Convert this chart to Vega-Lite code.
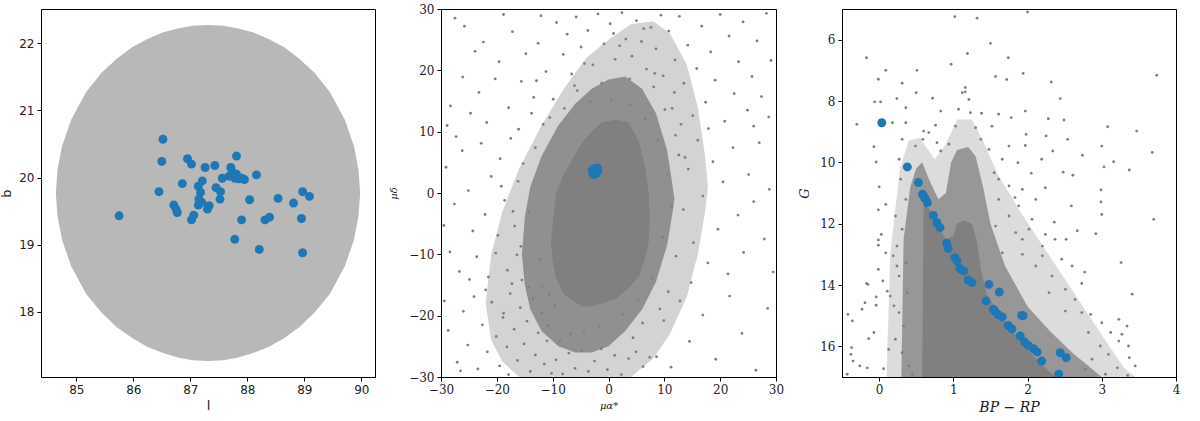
{
  "$schema": "https://vega.github.io/schema/vega-lite/v6.json",
  "background": "white",
  "padding": {"left": 0, "top": 2, "right": 5, "bottom": 5},
  "spacing": 66,
  "bounds": "flush",
  "config": {
    "view": {"stroke": "#000", "strokeWidth": 1},
    "axis": {"grid": false, "domainColor": "#000", "tickColor": "#000", "tickSize": 4, "labelColor": "#222", "titleColor": "#222", "titleFontWeight": "normal", "labelPadding": 3, "labelFlush": false, "labelOverlap": false, "format": "d"}
  },
  "datasets": {
    "ell": [
      {"l": 84.64, "lo": 19.77, "hi": 19.77}, {"l": 84.67, "lo": 19.42, "hi": 20.12}, {"l": 84.75, "lo": 19.07, "hi": 20.47},
      {"l": 84.91, "lo": 18.68, "hi": 20.86}, {"l": 85.17, "lo": 18.27, "hi": 21.27}, {"l": 85.44, "lo": 17.99, "hi": 21.56},
      {"l": 85.71, "lo": 17.77, "hi": 21.77}, {"l": 85.98, "lo": 17.61, "hi": 21.94}, {"l": 86.24, "lo": 17.48, "hi": 22.06},
      {"l": 86.51, "lo": 17.39, "hi": 22.16}, {"l": 86.78, "lo": 17.32, "hi": 22.22}, {"l": 87.04, "lo": 17.28, "hi": 22.26},
      {"l": 87.31, "lo": 17.27, "hi": 22.27}, {"l": 87.58, "lo": 17.28, "hi": 22.26}, {"l": 87.84, "lo": 17.32, "hi": 22.22},
      {"l": 88.11, "lo": 17.39, "hi": 22.16}, {"l": 88.38, "lo": 17.48, "hi": 22.06}, {"l": 88.65, "lo": 17.61, "hi": 21.94},
      {"l": 88.91, "lo": 17.77, "hi": 21.77}, {"l": 89.18, "lo": 17.99, "hi": 21.56}, {"l": 89.45, "lo": 18.27, "hi": 21.27},
      {"l": 89.71, "lo": 18.68, "hi": 20.86}, {"l": 89.87, "lo": 19.07, "hi": 20.47}, {"l": 89.95, "lo": 19.42, "hi": 20.12},
      {"l": 89.98, "lo": 19.77, "hi": 19.77}
    ],
    "memb": [
      {"l": 86.52, "b": 20.57}, {"l": 86.50, "b": 20.24}, {"l": 86.95, "b": 20.28}, {"l": 87.02, "b": 20.20}, {"l": 87.26, "b": 20.15},
      {"l": 87.43, "b": 20.18}, {"l": 87.81, "b": 20.32}, {"l": 87.71, "b": 20.15}, {"l": 87.56, "b": 19.99}, {"l": 87.68, "b": 20.02},
      {"l": 87.81, "b": 20.05}, {"l": 87.85, "b": 19.98}, {"l": 87.95, "b": 19.97}, {"l": 87.78, "b": 19.99}, {"l": 88.16, "b": 20.04},
      {"l": 86.86, "b": 19.91}, {"l": 87.21, "b": 19.95}, {"l": 87.14, "b": 19.87}, {"l": 87.18, "b": 19.78}, {"l": 86.45, "b": 19.79},
      {"l": 87.45, "b": 19.85}, {"l": 87.53, "b": 19.79}, {"l": 87.52, "b": 19.68}, {"l": 88.04, "b": 19.67}, {"l": 88.54, "b": 19.69},
      {"l": 88.81, "b": 19.62}, {"l": 88.97, "b": 19.79}, {"l": 89.09, "b": 19.72}, {"l": 87.15, "b": 19.68}, {"l": 87.20, "b": 19.63},
      {"l": 87.14, "b": 19.59}, {"l": 86.71, "b": 19.59}, {"l": 86.75, "b": 19.53}, {"l": 86.77, "b": 19.48}, {"l": 87.33, "b": 19.58},
      {"l": 87.30, "b": 19.53}, {"l": 85.75, "b": 19.43}, {"l": 87.06, "b": 19.44}, {"l": 87.02, "b": 19.37}, {"l": 87.90, "b": 19.37},
      {"l": 88.31, "b": 19.37}, {"l": 88.39, "b": 19.41}, {"l": 88.95, "b": 19.39}, {"l": 87.78, "b": 19.08}, {"l": 88.21, "b": 18.93},
      {"l": 88.97, "b": 18.88}, {"l": 87.90, "b": 19.99}, {"l": 87.74, "b": 20.08}
    ],
    "pm3": [
      {"pmra": -22, "lo": -18, "hi": -18}, {"pmra": -21, "lo": -24, "hi": -10}, {"pmra": -19, "lo": -27.5, "hi": -3},
      {"pmra": -16, "lo": -30, "hi": 4}, {"pmra": -12, "lo": -30, "hi": 11}, {"pmra": -8, "lo": -30, "hi": 17},
      {"pmra": -4, "lo": -30, "hi": 22}, {"pmra": 0, "lo": -30, "hi": 25}, {"pmra": 4, "lo": -30, "hi": 27.5},
      {"pmra": 8, "lo": -27, "hi": 28}, {"pmra": 11, "lo": -23, "hi": 26}, {"pmra": 14, "lo": -17, "hi": 21},
      {"pmra": 16, "lo": -10, "hi": 14}, {"pmra": 17.3, "lo": -3, "hi": 6}, {"pmra": 17.8, "lo": 1, "hi": 1}
    ],
    "pm2": [
      {"pmra": -15.5, "lo": -10, "hi": -10}, {"pmra": -15, "lo": -15, "hi": -4}, {"pmra": -14, "lo": -19, "hi": 1},
      {"pmra": -12, "lo": -22.5, "hi": 6}, {"pmra": -9, "lo": -25, "hi": 11}, {"pmra": -6, "lo": -26, "hi": 14.5},
      {"pmra": -3, "lo": -26, "hi": 17}, {"pmra": 0, "lo": -25, "hi": 18.5}, {"pmra": 3, "lo": -22.5, "hi": 19},
      {"pmra": 6, "lo": -19, "hi": 17}, {"pmra": 8.5, "lo": -14.5, "hi": 13}, {"pmra": 10.5, "lo": -8.5, "hi": 7},
      {"pmra": 11.5, "lo": -3, "hi": 1}, {"pmra": 11.8, "lo": -1, "hi": -1}
    ],
    "pm1": [
      {"pmra": -10.3, "lo": -8, "hi": -8}, {"pmra": -10, "lo": -11, "hi": -5}, {"pmra": -9.4, "lo": -14, "hi": 0},
      {"pmra": -8, "lo": -16.5, "hi": 3}, {"pmra": -6.5, "lo": -17.5, "hi": 5.5}, {"pmra": -4.7, "lo": -18.5, "hi": 8.3},
      {"pmra": -3, "lo": -18.5, "hi": 10}, {"pmra": -1.2, "lo": -18, "hi": 11.5}, {"pmra": 1.3, "lo": -17.3, "hi": 12},
      {"pmra": 3.6, "lo": -15.5, "hi": 11.5}, {"pmra": 5.5, "lo": -13.5, "hi": 8.3}, {"pmra": 6.6, "lo": -10.5, "hi": 4},
      {"pmra": 7.2, "lo": -8, "hi": 0}, {"pmra": 7.4, "lo": -4, "hi": -4}
    ],
    "pmfield": [
      {"pmra": -27.5, "pmdec": 28.5}, {"pmra": -25.8, "pmdec": 27.2}, {"pmra": -22.4, "pmdec": 24.6}, {"pmra": -23.9, "pmdec": 23.1},
      {"pmra": -19.6, "pmdec": 21.4}, {"pmra": -17.2, "pmdec": 26.3}, {"pmra": -14.8, "pmdec": 22.7}, {"pmra": -12.1, "pmdec": 28.9},
      {"pmra": -15.6, "pmdec": 18.2}, {"pmra": -20.3, "pmdec": 18.6}, {"pmra": -26.1, "pmdec": 18.9}, {"pmra": -28.3, "pmdec": 14.2},
      {"pmra": -24.7, "pmdec": 13.0}, {"pmra": -21.8, "pmdec": 11.5}, {"pmra": -17.9, "pmdec": 13.9}, {"pmra": -13.4, "pmdec": 15.6},
      {"pmra": -11.2, "pmdec": 19.8}, {"pmra": -12.6, "pmdec": 24.4}, {"pmra": -18.8, "pmdec": 29.1}, {"pmra": -10.5, "pmdec": 12.3},
      {"pmra": -16.1, "pmdec": 10.4}, {"pmra": -28.9, "pmdec": 11.0}, {"pmra": -23.2, "pmdec": 16.4},
      {"pmra": -29.1, "pmdec": 4.2}, {"pmra": -27.6, "pmdec": -1.8}, {"pmra": -26.2, "pmdec": 6.9}, {"pmra": -25.1, "pmdec": 0.4},
      {"pmra": -24.3, "pmdec": -6.2}, {"pmra": -22.8, "pmdec": 8.1}, {"pmra": -22.1, "pmdec": -3.5}, {"pmra": -21.0, "pmdec": 2.7},
      {"pmra": -20.2, "pmdec": -9.8}, {"pmra": -19.4, "pmdec": 5.6}, {"pmra": -18.6, "pmdec": -1.2}, {"pmra": -18.1, "pmdec": -12.6},
      {"pmra": -17.5, "pmdec": 8.9}, {"pmra": -16.8, "pmdec": -5.4}, {"pmra": -16.2, "pmdec": 1.9}, {"pmra": -15.7, "pmdec": -8.7},
      {"pmra": -15.3, "pmdec": 4.8}, {"pmra": -28.4, "pmdec": -9.6}, {"pmra": -26.7, "pmdec": -12.8}, {"pmra": -24.9, "pmdec": -14.1},
      {"pmra": -23.6, "pmdec": -10.4}, {"pmra": -21.5, "pmdec": -13.7}, {"pmra": -19.8, "pmdec": -6.9}, {"pmra": -17.3, "pmdec": -14.8},
      {"pmra": -29.5, "pmdec": -5.3}, {"pmra": -27.3, "pmdec": 9.2},
      {"pmra": -28.7, "pmdec": -22.4}, {"pmra": -27.1, "pmdec": -27.6}, {"pmra": -26.0, "pmdec": -19.3}, {"pmra": -25.2, "pmdec": -24.8},
      {"pmra": -24.1, "pmdec": -16.9}, {"pmra": -23.4, "pmdec": -28.7}, {"pmra": -22.6, "pmdec": -21.5}, {"pmra": -21.7, "pmdec": -25.9},
      {"pmra": -20.9, "pmdec": -17.8}, {"pmra": -20.1, "pmdec": -23.4}, {"pmra": -19.5, "pmdec": -28.2}, {"pmra": -18.8, "pmdec": -19.6},
      {"pmra": -18.2, "pmdec": -25.1}, {"pmra": -17.6, "pmdec": -16.4}, {"pmra": -16.9, "pmdec": -22.2}, {"pmra": -16.3, "pmdec": -27.3},
      {"pmra": -15.8, "pmdec": -18.7}, {"pmra": -15.1, "pmdec": -24.6}, {"pmra": -14.6, "pmdec": -20.9}, {"pmra": -14.0, "pmdec": -29.1},
      {"pmra": -13.5, "pmdec": -17.2}, {"pmra": -13.1, "pmdec": -26.4}, {"pmra": -12.6, "pmdec": -22.8}, {"pmra": -12.0, "pmdec": -19.5},
      {"pmra": -11.5, "pmdec": -27.9}, {"pmra": -11.0, "pmdec": -24.1}, {"pmra": -10.6, "pmdec": -16.5}, {"pmra": -10.2, "pmdec": -29.4},
      {"pmra": -29.4, "pmdec": -17.6}, {"pmra": -26.5, "pmdec": -29.0}, {"pmra": -22.0, "pmdec": -15.8}, {"pmra": -17.9, "pmdec": -29.6},
      {"pmra": -14.3, "pmdec": -15.4},
      {"pmra": -9.3, "pmdec": 27.8}, {"pmra": -8.1, "pmdec": 22.6}, {"pmra": -7.4, "pmdec": 25.9}, {"pmra": -6.6, "pmdec": 19.4},
      {"pmra": -5.8, "pmdec": 28.7}, {"pmra": -4.9, "pmdec": 23.8}, {"pmra": -3.7, "pmdec": 26.5}, {"pmra": -2.8, "pmdec": 20.9},
      {"pmra": -1.9, "pmdec": 29.2}, {"pmra": -0.8, "pmdec": 24.3}, {"pmra": 0.3, "pmdec": 27.6}, {"pmra": 1.2, "pmdec": 21.8},
      {"pmra": 2.4, "pmdec": 29.4}, {"pmra": 3.1, "pmdec": 25.1}, {"pmra": 4.2, "pmdec": 22.3}, {"pmra": 5.0, "pmdec": 28.1},
      {"pmra": 5.9, "pmdec": 24.7}, {"pmra": 6.8, "pmdec": 20.2}, {"pmra": 7.6, "pmdec": 27.0}, {"pmra": 8.5, "pmdec": 23.5},
      {"pmra": 9.4, "pmdec": 29.0}, {"pmra": 9.8, "pmdec": 19.1}, {"pmra": -6.1, "pmdec": 17.5}, {"pmra": -1.2, "pmdec": 17.9},
      {"pmra": 3.8, "pmdec": 18.6}, {"pmra": 8.1, "pmdec": 17.3}, {"pmra": 0.9, "pmdec": 26.0}, {"pmra": -4.3, "pmdec": 21.1},
      {"pmra": 6.3, "pmdec": 26.8}, {"pmra": 2.0, "pmdec": 24.0},
      {"pmra": 10.8, "pmdec": 26.4}, {"pmra": 11.9, "pmdec": 21.7}, {"pmra": 12.7, "pmdec": 28.8}, {"pmra": 13.5, "pmdec": 17.9},
      {"pmra": 14.2, "pmdec": 24.1}, {"pmra": 15.1, "pmdec": 12.6}, {"pmra": 15.8, "pmdec": 20.3}, {"pmra": 16.7, "pmdec": 27.2},
      {"pmra": 17.4, "pmdec": 14.8}, {"pmra": 18.3, "pmdec": 23.0}, {"pmra": 19.1, "pmdec": 18.4}, {"pmra": 20.0, "pmdec": 29.1},
      {"pmra": 20.8, "pmdec": 11.7}, {"pmra": 21.6, "pmdec": 25.6}, {"pmra": 22.5, "pmdec": 16.2}, {"pmra": 23.3, "pmdec": 21.4},
      {"pmra": 24.1, "pmdec": 27.9}, {"pmra": 24.9, "pmdec": 13.5}, {"pmra": 25.7, "pmdec": 19.0}, {"pmra": 26.6, "pmdec": 24.8},
      {"pmra": 27.4, "pmdec": 15.7}, {"pmra": 28.3, "pmdec": 29.3}, {"pmra": 29.1, "pmdec": 21.6}, {"pmra": 11.4, "pmdec": 13.8},
      {"pmra": 13.0, "pmdec": 11.2}, {"pmra": 17.9, "pmdec": 10.5}, {"pmra": 26.0, "pmdec": 10.9}, {"pmra": 28.7, "pmdec": 12.4},
      {"pmra": 12.6, "pmdec": 6.2}, {"pmra": 13.4, "pmdec": -2.7}, {"pmra": 14.3, "pmdec": 3.9}, {"pmra": 15.2, "pmdec": -8.1},
      {"pmra": 16.0, "pmdec": 8.6}, {"pmra": 16.9, "pmdec": -0.5}, {"pmra": 17.8, "pmdec": -11.4}, {"pmra": 18.7, "pmdec": 5.1},
      {"pmra": 19.6, "pmdec": -5.9}, {"pmra": 20.5, "pmdec": 1.8}, {"pmra": 21.4, "pmdec": -13.2}, {"pmra": 22.3, "pmdec": 7.4},
      {"pmra": 23.2, "pmdec": -3.6}, {"pmra": 24.2, "pmdec": -9.7}, {"pmra": 25.1, "pmdec": 3.0}, {"pmra": 26.0, "pmdec": -1.4},
      {"pmra": 27.0, "pmdec": 8.2}, {"pmra": 27.9, "pmdec": -7.5}, {"pmra": 28.8, "pmdec": 0.6}, {"pmra": 29.5, "pmdec": -12.9},
      {"pmra": 12.1, "pmdec": -10.3}, {"pmra": 14.8, "pmdec": -14.6},
      {"pmra": 8.6, "pmdec": -26.7}, {"pmra": 9.9, "pmdec": -20.8}, {"pmra": 11.2, "pmdec": -28.4}, {"pmra": 12.8, "pmdec": -17.6},
      {"pmra": 14.5, "pmdec": -24.2}, {"pmra": 16.9, "pmdec": -19.9}, {"pmra": 19.2, "pmdec": -27.1}, {"pmra": 21.7, "pmdec": -16.8},
      {"pmra": 23.9, "pmdec": -22.9}, {"pmra": 26.4, "pmdec": -28.9}, {"pmra": 28.5, "pmdec": -18.8}, {"pmra": 10.7, "pmdec": -16.1},
      {"pmra": -9.4, "pmdec": -27.2}, {"pmra": -8.2, "pmdec": -29.5}, {"pmra": -7.1, "pmdec": -26.1}, {"pmra": -6.0, "pmdec": -28.6},
      {"pmra": -4.8, "pmdec": -25.7}, {"pmra": -3.6, "pmdec": -29.1}, {"pmra": -2.5, "pmdec": -27.4}, {"pmra": -1.3, "pmdec": -25.4},
      {"pmra": -0.2, "pmdec": -28.8}, {"pmra": 1.1, "pmdec": -26.5}, {"pmra": 2.3, "pmdec": -29.6}, {"pmra": 3.6, "pmdec": -27.0},
      {"pmra": 4.9, "pmdec": -25.9}, {"pmra": 6.2, "pmdec": -28.3}, {"pmra": 7.4, "pmdec": -26.8},
      {"pmra": -14.2, "pmdec": -3.1}, {"pmra": -13.1, "pmdec": 7.4}, {"pmra": -12.3, "pmdec": -10.8}, {"pmra": -11.7, "pmdec": 11.2},
      {"pmra": -10.8, "pmdec": -21.6}, {"pmra": -9.9, "pmdec": 15.3}, {"pmra": -8.7, "pmdec": -24.1}, {"pmra": -7.9, "pmdec": 13.8},
      {"pmra": -6.8, "pmdec": -23.0}, {"pmra": -5.6, "pmdec": 16.7}, {"pmra": -4.4, "pmdec": -22.5}, {"pmra": -3.3, "pmdec": 14.9},
      {"pmra": -1.7, "pmdec": -21.7}, {"pmra": 0.5, "pmdec": 15.2}, {"pmra": 2.6, "pmdec": -19.8}, {"pmra": 3.9, "pmdec": 14.3},
      {"pmra": 5.3, "pmdec": -17.4}, {"pmra": 6.6, "pmdec": 12.1}, {"pmra": 7.8, "pmdec": -13.9}, {"pmra": 8.9, "pmdec": 8.6},
      {"pmra": 9.7, "pmdec": -7.2}, {"pmra": 10.6, "pmdec": 3.1}, {"pmra": 11.3, "pmdec": -2.2}, {"pmra": 12.0, "pmdec": 9.4},
      {"pmra": -15.5, "pmdec": -14.2}, {"pmra": -16.4, "pmdec": -10.1}, {"pmra": -13.8, "pmdec": 13.0}, {"pmra": -12.9, "pmdec": 18.3},
      {"pmra": 8.3, "pmdec": 19.5}, {"pmra": 11.8, "pmdec": 16.4}, {"pmra": -18.9, "pmdec": -20.3}, {"pmra": -9.6, "pmdec": -18.4},
      {"pmra": 4.4, "pmdec": -23.6}, {"pmra": 9.2, "pmdec": -18.9}, {"pmra": 13.7, "pmdec": 5.8}, {"pmra": -17.1, "pmdec": -3.0},
      {"pmra": -11.9, "pmdec": -15.2}, {"pmra": -19.2, "pmdec": 1.1}, {"pmra": 10.1, "pmdec": 13.6}, {"pmra": 6.1, "pmdec": -21.2}
    ],
    "pmmemb": [
      {"pmra": -2.8, "pmdec": 3.3}, {"pmra": -2.3, "pmdec": 3.9}, {"pmra": -2.0, "pmdec": 4.1}, {"pmra": -2.6, "pmdec": 3.6},
      {"pmra": -2.2, "pmdec": 3.2}, {"pmra": -2.9, "pmdec": 3.7}, {"pmra": -2.5, "pmdec": 4.0}, {"pmra": -2.1, "pmdec": 3.7},
      {"pmra": -2.7, "pmdec": 3.0}, {"pmra": -1.9, "pmdec": 3.6}
    ],
    "cmd3": [
      {"bprp": 0.1, "top": 17, "bot": 17}, {"bprp": 0.15, "top": 13, "bot": 17}, {"bprp": 0.28, "top": 10.2, "bot": 17},
      {"bprp": 0.4, "top": 9.3, "bot": 17}, {"bprp": 0.55, "top": 9.2, "bot": 17}, {"bprp": 0.75, "top": 9.9, "bot": 17},
      {"bprp": 0.9, "top": 9.4, "bot": 17}, {"bprp": 1.05, "top": 8.6, "bot": 17}, {"bprp": 1.25, "top": 8.6, "bot": 17},
      {"bprp": 1.4, "top": 9.3, "bot": 17}, {"bprp": 1.6, "top": 10.4, "bot": 17}, {"bprp": 1.9, "top": 11.6, "bot": 17},
      {"bprp": 2.2, "top": 12.7, "bot": 17}, {"bprp": 2.5, "top": 13.8, "bot": 17}, {"bprp": 2.8, "top": 14.9, "bot": 17},
      {"bprp": 3.1, "top": 16.0, "bot": 17}, {"bprp": 3.3, "top": 16.7, "bot": 17}, {"bprp": 3.45, "top": 17, "bot": 17}
    ],
    "cmd2": [
      {"bprp": 0.3, "top": 17, "bot": 17}, {"bprp": 0.33, "top": 12.5, "bot": 17}, {"bprp": 0.42, "top": 10.8, "bot": 17},
      {"bprp": 0.5, "top": 10.2, "bot": 17}, {"bprp": 0.58, "top": 10.0, "bot": 17}, {"bprp": 0.68, "top": 10.6, "bot": 17},
      {"bprp": 0.8, "top": 11.2, "bot": 17}, {"bprp": 0.9, "top": 11.0, "bot": 17}, {"bprp": 0.97, "top": 10.0, "bot": 17},
      {"bprp": 1.05, "top": 9.6, "bot": 17}, {"bprp": 1.2, "top": 9.5, "bot": 17}, {"bprp": 1.3, "top": 9.8, "bot": 17},
      {"bprp": 1.4, "top": 10.8, "bot": 17}, {"bprp": 1.5, "top": 12.0, "bot": 17}, {"bprp": 1.7, "top": 13.4, "bot": 17},
      {"bprp": 2.0, "top": 14.7, "bot": 17}, {"bprp": 2.3, "top": 15.5, "bot": 17}, {"bprp": 2.6, "top": 16.2, "bot": 17},
      {"bprp": 2.8, "top": 16.6, "bot": 17}, {"bprp": 3.0, "top": 17, "bot": 17}
    ],
    "cmd1": [
      {"bprp": 0.58, "top": 17, "bot": 17}, {"bprp": 0.6, "top": 11.3, "bot": 17}, {"bprp": 0.7, "top": 11.6, "bot": 17},
      {"bprp": 0.8, "top": 12.1, "bot": 17}, {"bprp": 0.9, "top": 12.5, "bot": 17}, {"bprp": 1.0, "top": 12.4, "bot": 17},
      {"bprp": 1.05, "top": 12.0, "bot": 17}, {"bprp": 1.15, "top": 11.9, "bot": 17}, {"bprp": 1.25, "top": 12.0, "bot": 17},
      {"bprp": 1.32, "top": 12.6, "bot": 17}, {"bprp": 1.38, "top": 13.6, "bot": 17}, {"bprp": 1.45, "top": 14.3, "bot": 17},
      {"bprp": 1.6, "top": 14.9, "bot": 17}, {"bprp": 1.8, "top": 15.5, "bot": 17}, {"bprp": 2.0, "top": 16.1, "bot": 17},
      {"bprp": 2.2, "top": 16.6, "bot": 17}, {"bprp": 2.35, "top": 16.95, "bot": 17}, {"bprp": 2.42, "top": 17, "bot": 17}
    ],
    "cmdfield": [
      {"bprp": 1.02, "G": 5.25}, {"bprp": 1.32, "G": 5.30}, {"bprp": 2.0, "G": 5.1}, {"bprp": 1.5, "G": 6.12}, {"bprp": 1.19, "G": 6.45},
      {"bprp": 1.74, "G": 6.59}, {"bprp": -0.17, "G": 6.59}, {"bprp": 0.97, "G": 6.8}, {"bprp": 0.51, "G": 7.0}, {"bprp": 0.09, "G": 7.0},
      {"bprp": 1.57, "G": 7.2}, {"bprp": 1.72, "G": 7.3}, {"bprp": 1.94, "G": 7.1}, {"bprp": 2.32, "G": 7.38}, {"bprp": 3.74, "G": 7.16},
      {"bprp": -0.01, "G": 7.29}, {"bprp": 0.31, "G": 7.42}, {"bprp": 0.50, "G": 7.73}, {"bprp": 1.16, "G": 7.56}, {"bprp": 1.16, "G": 7.7},
      {"bprp": 2.44, "G": 7.92}, {"bprp": -0.06, "G": 8.03}, {"bprp": 0.02, "G": 8.03}, {"bprp": 0.24, "G": 7.92}, {"bprp": 0.36, "G": 8.22},
      {"bprp": 0.72, "G": 7.91}, {"bprp": 0.83, "G": 8.33}, {"bprp": 1.21, "G": 7.95}, {"bprp": 1.38, "G": 8.4}, {"bprp": 1.61, "G": 8.43},
      {"bprp": 1.78, "G": 8.54}, {"bprp": 1.97, "G": 8.33}, {"bprp": 2.28, "G": 8.58}, {"bprp": 2.49, "G": 8.62}, {"bprp": 3.08, "G": 8.84},
      {"bprp": 3.47, "G": 8.98}, {"bprp": -0.30, "G": 8.76}, {"bprp": 0.18, "G": 8.71}, {"bprp": 0.36, "G": 8.71}, {"bprp": 0.76, "G": 8.79},
      {"bprp": 0.60, "G": 8.98}, {"bprp": 1.52, "G": 8.82}, {"bprp": 1.98, "G": 9.09}, {"bprp": 2.25, "G": 9.14}, {"bprp": 1.75, "G": 9.47},
      {"bprp": 1.97, "G": 9.45}, {"bprp": 2.34, "G": 9.63}, {"bprp": 2.54, "G": 9.25}, {"bprp": 3.0, "G": 9.47}, {"bprp": -0.07, "G": 9.49},
      {"bprp": 3.68, "G": 9.68}, {"bprp": 2.74, "G": 9.77}, {"bprp": 2.19, "G": 9.9}, {"bprp": 1.87, "G": 10.01}, {"bprp": 3.16, "G": 9.98},
      {"bprp": 3.03, "G": 10.15}, {"bprp": 3.37, "G": 10.25}, {"bprp": -0.04, "G": 9.99}, {"bprp": 2.48, "G": 10.32}, {"bprp": 2.05, "G": 10.36},
      {"bprp": 2.61, "G": 10.42}, {"bprp": 1.61, "G": 10.55}, {"bprp": 2.24, "G": 10.83}, {"bprp": 1.93, "G": 10.88}, {"bprp": 2.99, "G": 10.9},
      {"bprp": 1.83, "G": 11.15}, {"bprp": 2.11, "G": 11.21}, {"bprp": 0.0, "G": 10.8}, {"bprp": -0.01, "G": 11.55}, {"bprp": 2.59, "G": 11.42},
      {"bprp": 2.99, "G": 11.29}, {"bprp": 3.0, "G": 11.7}, {"bprp": 0.09, "G": 11.37}, {"bprp": 3.70, "G": 11.86}, {"bprp": 2.36, "G": 11.95},
      {"bprp": 2.67, "G": 12.23}, {"bprp": 2.02, "G": 12.18}, {"bprp": 2.92, "G": 12.33}, {"bprp": 2.24, "G": 12.35}, {"bprp": 1.93, "G": 12.51},
      {"bprp": 2.52, "G": 12.51}, {"bprp": 0.03, "G": 12.35}, {"bprp": -0.01, "G": 12.53}, {"bprp": -0.01, "G": 12.7}, {"bprp": 0.09, "G": 12.95},
      {"bprp": 0.19, "G": 13.05}, {"bprp": 1.66, "G": 12.95}, {"bprp": 1.93, "G": 13.0}, {"bprp": 2.2, "G": 13.05}, {"bprp": 3.26, "G": 13.27},
      {"bprp": 2.77, "G": 13.58}, {"bprp": -0.01, "G": 13.49}, {"bprp": 0.24, "G": 13.38}, {"bprp": 0.05, "G": 13.87}, {"bprp": -0.17, "G": 13.95},
      {"bprp": -0.15, "G": 13.98}, {"bprp": 2.73, "G": 13.95}, {"bprp": 3.41, "G": 14.3}, {"bprp": 0.11, "G": 14.2}, {"bprp": 0.15, "G": 14.36},
      {"bprp": -0.04, "G": 14.39}, {"bprp": -0.19, "G": 14.58}, {"bprp": -0.04, "G": 14.66}, {"bprp": -0.23, "G": 14.79}, {"bprp": 0.20, "G": 14.68},
      {"bprp": -0.42, "G": 14.96}, {"bprp": -0.36, "G": 15.17}, {"bprp": 2.73, "G": 14.9}, {"bprp": 2.85, "G": 14.96}, {"bprp": 2.51, "G": 14.85},
      {"bprp": 3.0, "G": 15.23}, {"bprp": 3.12, "G": 15.55}, {"bprp": 3.27, "G": 15.61}, {"bprp": 3.23, "G": 15.83}, {"bprp": 3.36, "G": 15.99},
      {"bprp": -0.07, "G": 15.55}, {"bprp": -0.14, "G": 15.75}, {"bprp": 0.13, "G": 16.1}, {"bprp": -0.37, "G": 16.04}, {"bprp": -0.38, "G": 16.26},
      {"bprp": -0.35, "G": 16.48}, {"bprp": -0.26, "G": 16.64}, {"bprp": -0.16, "G": 16.7}, {"bprp": 0.06, "G": 16.73}, {"bprp": -0.43, "G": 16.91},
      {"bprp": 3.09, "G": 16.26}, {"bprp": 3.37, "G": 16.37}, {"bprp": 3.45, "G": 16.64}, {"bprp": 3.35, "G": 16.95}, {"bprp": 3.21, "G": 16.7},
      {"bprp": 3.05, "G": 16.91},
      {"bprp": 0.31, "G": 9.25}, {"bprp": 0.27, "G": 9.9}, {"bprp": 0.29, "G": 10.55}, {"bprp": 0.36, "G": 11.21}, {"bprp": 0.22, "G": 11.75},
      {"bprp": 0.31, "G": 12.18}, {"bprp": 0.24, "G": 12.73}, {"bprp": 0.36, "G": 13.27}, {"bprp": 0.27, "G": 13.71}, {"bprp": 0.38, "G": 14.25},
      {"bprp": 0.27, "G": 14.9}, {"bprp": 0.33, "G": 15.34}, {"bprp": 0.22, "G": 15.77}, {"bprp": 0.31, "G": 16.21}, {"bprp": 0.40, "G": 16.64},
      {"bprp": 0.45, "G": 16.91},
      {"bprp": 1.12, "G": 7.73}, {"bprp": 1.07, "G": 8.27}, {"bprp": 1.23, "G": 8.38}, {"bprp": 1.03, "G": 8.82}, {"bprp": 1.3, "G": 8.87},
      {"bprp": 1.37, "G": 9.25}, {"bprp": 0.94, "G": 9.41}, {"bprp": 1.48, "G": 9.58}, {"bprp": 0.83, "G": 9.63}, {"bprp": 0.78, "G": 9.36},
      {"bprp": 0.67, "G": 9.03}, {"bprp": 0.59, "G": 9.25}, {"bprp": 0.49, "G": 9.47}, {"bprp": 1.66, "G": 9.9}, {"bprp": 1.55, "G": 10.34},
      {"bprp": 1.75, "G": 10.77}, {"bprp": 1.88, "G": 11.42}, {"bprp": 1.61, "G": 11.21}, {"bprp": 1.75, "G": 11.75}, {"bprp": 2.06, "G": 11.86},
      {"bprp": 1.57, "G": 12.08}, {"bprp": 1.84, "G": 12.29}, {"bprp": 2.37, "G": 12.51}, {"bprp": 2.2, "G": 12.73}, {"bprp": 2.46, "G": 13.16},
      {"bprp": 2.11, "G": 13.38}, {"bprp": 2.33, "G": 13.71}, {"bprp": 2.6, "G": 13.38}, {"bprp": 2.51, "G": 14.14}, {"bprp": 2.29, "G": 14.25},
      {"bprp": 2.64, "G": 14.47}, {"bprp": 2.82, "G": 15.55}, {"bprp": 2.98, "G": 15.99}, {"bprp": 2.87, "G": 16.42}, {"bprp": 2.78, "G": 16.75},
      {"bprp": 3.23, "G": 15.12}, {"bprp": 3.34, "G": 15.34}
    ],
    "cmdmemb": [
      {"bprp": 0.036, "G": 8.71}, {"bprp": 0.38, "G": 10.15}, {"bprp": 0.53, "G": 10.66}, {"bprp": 0.585, "G": 11.04}, {"bprp": 0.62, "G": 11.18},
      {"bprp": 0.65, "G": 11.31}, {"bprp": 0.73, "G": 11.73}, {"bprp": 0.78, "G": 11.97}, {"bprp": 0.82, "G": 12.13}, {"bprp": 0.91, "G": 12.64},
      {"bprp": 0.93, "G": 12.81}, {"bprp": 1.02, "G": 13.11}, {"bprp": 1.05, "G": 13.22}, {"bprp": 1.09, "G": 13.47}, {"bprp": 1.14, "G": 13.54},
      {"bprp": 1.20, "G": 13.84}, {"bprp": 1.25, "G": 13.92}, {"bprp": 1.48, "G": 13.98}, {"bprp": 1.62, "G": 14.23}, {"bprp": 1.44, "G": 14.52},
      {"bprp": 1.54, "G": 14.79}, {"bprp": 1.60, "G": 14.96}, {"bprp": 1.66, "G": 15.04}, {"bprp": 1.92, "G": 14.99}, {"bprp": 1.74, "G": 15.32},
      {"bprp": 1.79, "G": 15.43}, {"bprp": 1.90, "G": 15.66}, {"bprp": 1.96, "G": 15.86}, {"bprp": 2.01, "G": 15.97}, {"bprp": 2.08, "G": 16.08},
      {"bprp": 2.13, "G": 16.18}, {"bprp": 2.19, "G": 16.48}, {"bprp": 2.44, "G": 16.21}, {"bprp": 2.52, "G": 16.37}, {"bprp": 2.42, "G": 16.91},
      {"bprp": 0.60, "G": 11.10}, {"bprp": 1.56, "G": 14.85}, {"bprp": 1.94, "G": 15.0}
    ]
  },
  "hconcat": [
    {
      "width": 334, "height": 368,
      "layer": [
        {
          "data": {"name": "ell"},
          "mark": {"type": "area", "color": "#b8b8b8", "clip": true},
          "encoding": {
            "x": {"field": "l", "type": "quantitative", "title": "l",
              "scale": {"domain": [84.38, 90.24], "nice": false, "zero": false},
              "axis": {"values": [85, 86, 87, 88, 89, 90], "labelFont": "DejaVu Sans", "labelFontSize": 12, "titleFont": "DejaVu Sans", "titleFontSize": 13, "titlePadding": 4}},
            "y": {"field": "lo", "type": "quantitative", "title": "b",
              "scale": {"domain": [17.03, 22.51], "nice": false, "zero": false},
              "axis": {"values": [18, 19, 20, 21, 22], "labelFont": "DejaVu Sans", "labelFontSize": 12, "titleFont": "DejaVu Sans", "titleFontSize": 13, "titlePadding": 5}},
            "y2": {"field": "hi"}
          }
        },
        {
          "data": {"name": "memb"},
          "mark": {"type": "circle", "color": "#1f77b4", "size": 80, "opacity": 1, "clip": true},
          "encoding": {
            "x": {"field": "l", "type": "quantitative", "title": "l"},
            "y": {"field": "b", "type": "quantitative", "title": "b"}
          }
        }
      ]
    },
    {
      "width": 335, "height": 368,
      "layer": [
        {
          "data": {"name": "pm3"},
          "mark": {"type": "area", "color": "#808080", "opacity": 0.35, "clip": true},
          "encoding": {
            "x": {"field": "pmra", "type": "quantitative", "title": "μα*",
              "scale": {"domain": [-30, 30], "nice": false, "zero": false},
              "axis": {"values": [-30, -20, -10, 0, 10, 20, 30], "labelFont": "DejaVu Serif", "labelFontSize": 12, "titleFont": "DejaVu Serif", "titleFontSize": 10, "titleFontStyle": "italic", "titlePadding": 5}},
            "y": {"field": "lo", "type": "quantitative", "title": "μδ",
              "scale": {"domain": [-30, 30], "nice": false, "zero": false},
              "axis": {"values": [-30, -20, -10, 0, 10, 20, 30], "labelFont": "DejaVu Serif", "labelFontSize": 12, "titleFont": "DejaVu Serif", "titleFontSize": 10, "titleFontStyle": "italic", "titlePadding": 10}},
            "y2": {"field": "hi"}
          }
        },
        {
          "data": {"name": "pm2"},
          "mark": {"type": "area", "color": "#808080", "opacity": 0.8, "clip": true},
          "encoding": {
            "x": {"field": "pmra", "type": "quantitative", "title": "μα*"},
            "y": {"field": "lo", "type": "quantitative", "title": "μδ"},
            "y2": {"field": "hi"}
          }
        },
        {
          "data": {"name": "pm1"},
          "mark": {"type": "area", "color": "#808080", "opacity": 1, "clip": true},
          "encoding": {
            "x": {"field": "pmra", "type": "quantitative", "title": "μα*"},
            "y": {"field": "lo", "type": "quantitative", "title": "μδ"},
            "y2": {"field": "hi"}
          }
        },
        {
          "data": {"name": "pmfield"},
          "mark": {"type": "circle", "color": "#808080", "size": 8, "opacity": 1, "clip": true},
          "encoding": {
            "x": {"field": "pmra", "type": "quantitative", "title": "μα*"},
            "y": {"field": "pmdec", "type": "quantitative", "title": "μδ"}
          }
        },
        {
          "data": {"name": "pmmemb"},
          "mark": {"type": "circle", "color": "#1f77b4", "size": 80, "opacity": 1, "clip": true},
          "encoding": {
            "x": {"field": "pmra", "type": "quantitative", "title": "μα*"},
            "y": {"field": "pmdec", "type": "quantitative", "title": "μδ"}
          }
        }
      ]
    },
    {
      "width": 334, "height": 368,
      "layer": [
        {
          "data": {"name": "cmd3"},
          "mark": {"type": "area", "color": "#808080", "opacity": 0.28, "clip": true},
          "encoding": {
            "x": {"field": "bprp", "type": "quantitative", "title": "BP − RP",
              "scale": {"domain": [-0.5, 4], "nice": false, "zero": false},
              "axis": {"values": [0, 1, 2, 3, 4], "labelFont": "DejaVu Serif", "labelFontSize": 12, "titleFont": "DejaVu Serif", "titleFontSize": 14, "titleFontStyle": "italic", "titlePadding": 5}},
            "y": {"field": "top", "type": "quantitative", "title": "G",
              "scale": {"domain": [5, 17], "nice": false, "zero": false, "reverse": true},
              "axis": {"values": [6, 8, 10, 12, 14, 16], "labelFont": "DejaVu Serif", "labelFontSize": 12, "titleFont": "DejaVu Serif", "titleFontSize": 13, "titleFontStyle": "italic", "titlePadding": 8}},
            "y2": {"field": "bot"}
          }
        },
        {
          "data": {"name": "cmd2"},
          "mark": {"type": "area", "color": "#808080", "opacity": 0.75, "clip": true},
          "encoding": {
            "x": {"field": "bprp", "type": "quantitative", "title": "BP − RP"},
            "y": {"field": "top", "type": "quantitative", "title": "G"},
            "y2": {"field": "bot"}
          }
        },
        {
          "data": {"name": "cmd1"},
          "mark": {"type": "area", "color": "#808080", "opacity": 1, "clip": true},
          "encoding": {
            "x": {"field": "bprp", "type": "quantitative", "title": "BP − RP"},
            "y": {"field": "top", "type": "quantitative", "title": "G"},
            "y2": {"field": "bot"}
          }
        },
        {
          "data": {"name": "cmdfield"},
          "mark": {"type": "circle", "color": "#808080", "size": 8, "opacity": 1, "clip": true},
          "encoding": {
            "x": {"field": "bprp", "type": "quantitative", "title": "BP − RP"},
            "y": {"field": "G", "type": "quantitative", "title": "G"}
          }
        },
        {
          "data": {"name": "cmdmemb"},
          "mark": {"type": "circle", "color": "#1f77b4", "size": 80, "opacity": 1, "clip": true},
          "encoding": {
            "x": {"field": "bprp", "type": "quantitative", "title": "BP − RP"},
            "y": {"field": "G", "type": "quantitative", "title": "G"}
          }
        }
      ]
    }
  ]
}
